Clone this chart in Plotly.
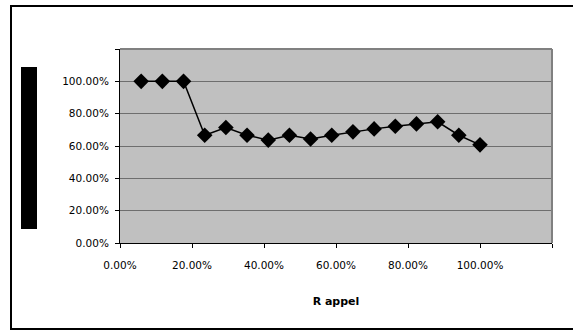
import plotly.graph_objects as go

rappel = [0.0588, 0.1176, 0.1765, 0.2353, 0.2941, 0.3529, 0.4118, 0.4706, 0.5294,
          0.5882, 0.6471, 0.7059, 0.7647, 0.8235, 0.8824, 0.9412, 1.0]
precision = [1.0, 1.0, 1.0, 0.6667, 0.7143, 0.6667, 0.6364, 0.6667, 0.6429,
             0.6667, 0.6875, 0.7059, 0.7222, 0.7368, 0.75, 0.6667, 0.6071]

tick_vals = [0, 0.2, 0.4, 0.6, 0.8, 1.0, 1.2]
tick_text = ["0.00%", "20.00%", "40.00%", "60.00%", "80.00%", "100.00%", ""]
x_title = "R appel"

W, H = 573, 331
L, R, T, B = 120, 21, 49, 88
pw, ph = W - L - R, H - T - B

def px(x):
    return (x - L) / pw

def py(y):
    return (H - B - y) / ph

fig = go.Figure()
fig.add_trace(go.Scatter(
    x=rappel, y=precision, mode="lines+markers",
    line=dict(color="black", width=1.5),
    marker=dict(symbol="diamond", size=12, color="black"),
    showlegend=False, cliponaxis=False,
))

font = dict(family="DejaVu Sans", size=10.5, color="black")

fig.update_layout(
    width=W, height=H,
    margin=dict(l=L, r=R, t=T, b=B),
    paper_bgcolor="white",
    plot_bgcolor="#C0C0C0",
    font=font,
    xaxis=dict(
        range=[0, 1.2], tickvals=tick_vals, ticktext=tick_text,
        showgrid=False, zeroline=False,
        showline=True, linecolor="black", linewidth=1,
        ticks="outside", ticklen=4, tickcolor="black",
        ticklabelstandoff=8,
        title=dict(text="<b>" + x_title + "</b>", font=dict(family="DejaVu Sans", size=11), standoff=27),
    ),
    yaxis=dict(
        range=[0, 1.2], tickvals=tick_vals, ticktext=tick_text,
        showgrid=True, gridcolor="#6e6e6e", gridwidth=1.2,
        zeroline=False,
        showline=True, linecolor="black", linewidth=1,
        ticks="outside", ticklen=4, tickcolor="black",
        ticklabelstandoff=4,
    ),
    shapes=[
        dict(type="line", xref="paper", yref="paper", x0=0, x1=1, y0=1, y1=1,
             line=dict(color="#808080", width=2)),
        dict(type="line", xref="paper", yref="paper", x0=1, x1=1, y0=0, y1=1,
             line=dict(color="#808080", width=2)),
        dict(type="rect", xref="paper", yref="paper",
             x0=px(21), x1=px(37), y0=py(229), y1=py(67),
             fillcolor="black", line=dict(width=0)),
        dict(type="rect", xref="paper", yref="paper",
             x0=px(11), x1=px(590), y0=py(329), y1=py(6),
             fillcolor="rgba(0,0,0,0)", line=dict(color="black", width=2), layer="above"),
    ],
)

fig.write_html("out.html", config={"displayModeBar": False},
               post_script="document.body.style.margin='0';")
